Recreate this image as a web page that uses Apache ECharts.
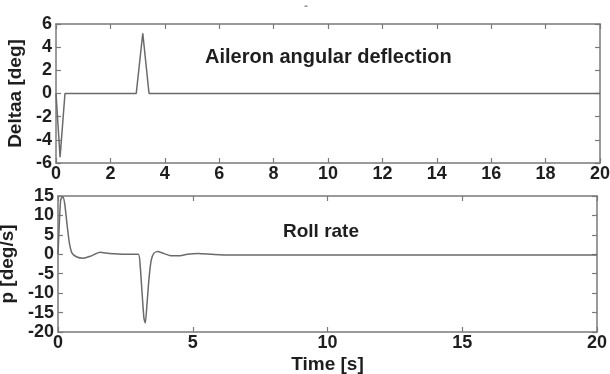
<!DOCTYPE html>
<html>
<head>
<meta charset="utf-8">
<script src="https://cdn.jsdelivr.net/npm/echarts@6/dist/echarts.min.js"></script>
<style>
  html, body { margin: 0; padding: 0; background: #fff; }
  #chart { width: 610px; height: 374px; }
</style>
</head>
<body>
<div id="chart"></div>
<script>
// Aileron deflection (deg) vs time (s)
var aileronTime = [0, 0.15, 0.33, 2.95, 3.19, 3.42, 20];
var aileronDeg  = [0, -5.5, 0, 0, 5.2, 0, 0];

// Roll rate (deg/s) vs time (s)
var rollTime = [0, 0.05, 0.1, 0.18, 0.25, 0.33, 0.42, 0.52, 0.7, 0.93, 1.2, 1.56, 1.9, 2.5, 2.98, 3.05, 3.12, 3.19, 3.24, 3.3, 3.38, 3.46, 3.56, 3.7, 3.85, 4.15, 4.45, 4.8, 5.2, 5.7, 6.3, 20];
var rollRate = [0, 8, 14, 14.8, 13, 8, 3, 0.3, -0.7, -1.0, -0.5, 0.5, 0.2, 0, 0, -3, -10, -16.5, -17.7, -13, -6, -1.5, 0.3, 0.7, 0.4, -0.3, -0.4, 0, 0.2, 0, -0.2, -0.2];

// Tick values
var aileronTicks = { min: -6, max: 6, step: 2 };
var rollTicks = { min: -20, max: 15, step: 5 };
var timeTicksTop = { min: 0, max: 20, step: 2 };
var timeTicksBottom = { min: 0, max: 20, step: 5 };

function pairs(xs, ys) {
  return xs.map(function (x, i) { return [x, ys[i]]; });
}

var FONT = 'Liberation Sans, Arial, sans-serif';
var AXIS_COLOR = '#7a7a7a';
var TEXT_COLOR = '#1e1e1e';
var LINE_COLOR = '#6a6a6a';

var labelStyle = { color: TEXT_COLOR, fontFamily: FONT, fontWeight: 'bold', fontSize: 18 };
var nameStyle = { color: TEXT_COLOR, fontFamily: FONT, fontWeight: 'bold', fontSize: 19 };

function frameAxis(extra) {
  return Object.assign({
    type: 'value',
    axisLine: { show: true, onZero: false, lineStyle: { color: AXIS_COLOR, width: 1.5 } },
    axisTick: { show: true, inside: true, length: 5, lineStyle: { color: AXIS_COLOR, width: 1.2 } },
    splitLine: { show: false },
    axisLabel: { show: false }
  }, extra);
}

// y tick labels sit a little above their tick
var yLabel = Object.assign({ show: true, margin: 4, padding: [0, 0, 10, 0] }, labelStyle);

var chart = echarts.init(document.getElementById('chart'), null, { renderer: 'canvas' });

chart.setOption({
  animation: false,
  backgroundColor: '#fff',
  grid: [
    { left: 56, right: 10, top: 24, height: 139, outerBoundsMode: 'none', containLabel: false },
    { left: 58, right: 13, top: 196, height: 136, outerBoundsMode: 'none', containLabel: false }
  ],
  xAxis: [
    frameAxis({ gridIndex: 0, position: 'bottom', min: timeTicksTop.min, max: timeTicksTop.max, interval: timeTicksTop.step,
      axisLabel: Object.assign({ show: true, margin: 2 }, labelStyle) }),
    frameAxis({ gridIndex: 0, position: 'top', min: timeTicksTop.min, max: timeTicksTop.max, interval: timeTicksTop.step }),
    frameAxis({ gridIndex: 1, position: 'bottom', min: timeTicksBottom.min, max: timeTicksBottom.max, interval: timeTicksBottom.step,
      axisLabel: Object.assign({ show: true, margin: 2 }, labelStyle),
      name: 'Time [s]', nameLocation: 'middle', nameGap: 23, nameTextStyle: nameStyle }),
    frameAxis({ gridIndex: 1, position: 'top', min: timeTicksBottom.min, max: timeTicksBottom.max, interval: timeTicksBottom.step })
  ],
  yAxis: [
    frameAxis({ gridIndex: 0, position: 'left', min: aileronTicks.min, max: aileronTicks.max, interval: aileronTicks.step,
      axisLabel: yLabel,
      name: 'Deltaa [deg]', nameLocation: 'middle', nameGap: 29, nameTextStyle: nameStyle }),
    frameAxis({ gridIndex: 0, position: 'right', min: aileronTicks.min, max: aileronTicks.max, interval: aileronTicks.step }),
    frameAxis({ gridIndex: 1, position: 'left', min: rollTicks.min, max: rollTicks.max, interval: rollTicks.step,
      axisLabel: yLabel,
      name: 'p [deg/s]', nameLocation: 'middle', nameGap: 35, nameTextStyle: nameStyle }),
    frameAxis({ gridIndex: 1, position: 'right', min: rollTicks.min, max: rollTicks.max, interval: rollTicks.step })
  ],
  series: [
    {
      type: 'line', xAxisIndex: 0, yAxisIndex: 0, symbol: 'none',
      lineStyle: { color: LINE_COLOR, width: 1.5 },
      data: pairs(aileronTime, aileronDeg)
    },
    {
      type: 'line', xAxisIndex: 2, yAxisIndex: 2, symbol: 'none', smooth: 0.2,
      lineStyle: { color: LINE_COLOR, width: 1.5 },
      data: pairs(rollTime, rollRate)
    }
  ],
  graphic: [
    { type: 'text', left: 205, top: 47,
      style: { text: 'Aileron angular deflection', fill: TEXT_COLOR, font: 'bold 20px ' + FONT } },
    { type: 'text', left: 283, top: 222,
      style: { text: 'Roll rate', fill: TEXT_COLOR, font: 'bold 19px ' + FONT } },
    { type: 'text', left: 304, top: 1,
      style: { text: '-', fill: '#999', font: 'bold 12px ' + FONT } }
  ]
});
</script>
</body>
</html>
